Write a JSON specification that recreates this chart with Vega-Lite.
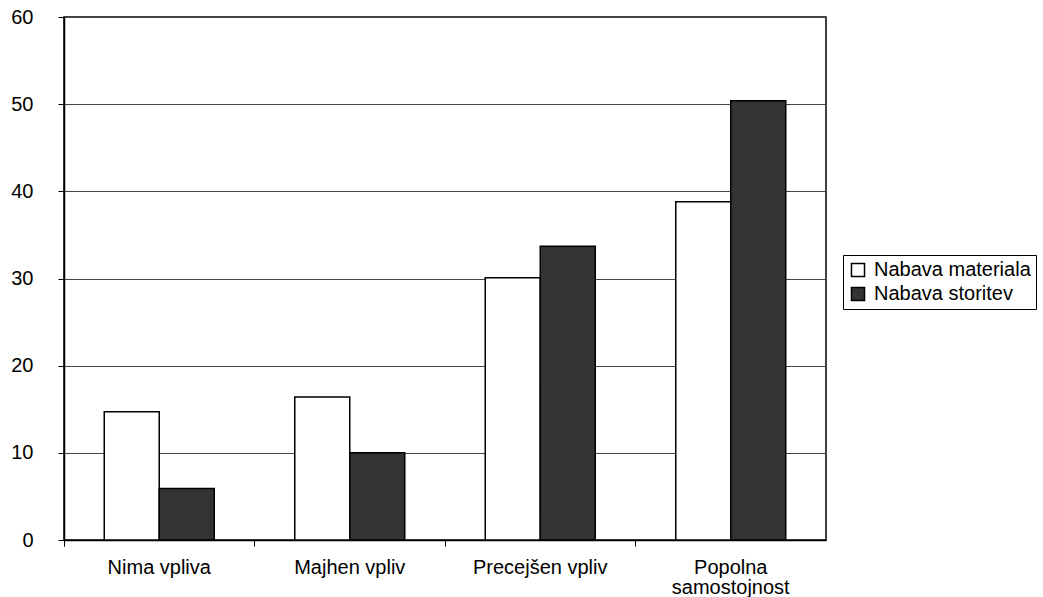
{
  "$schema": "https://vega.github.io/schema/vega-lite/v6.json",
  "width": 762,
  "height": 523,
  "autosize": {"type": "none"},
  "padding": {"left": 64, "top": 17, "right": 217, "bottom": 57},
  "background": "white",
  "config": {
    "font": "Liberation Sans",
    "view": {"stroke": "black", "strokeWidth": 1.5}
  },
  "data": {
    "values": [
      {"kategorija": "Nima vpliva", "serija": "Nabava materiala", "vrednost": 14.7},
      {"kategorija": "Nima vpliva", "serija": "Nabava storitev", "vrednost": 5.9},
      {"kategorija": "Majhen vpliv", "serija": "Nabava materiala", "vrednost": 16.4},
      {"kategorija": "Majhen vpliv", "serija": "Nabava storitev", "vrednost": 10.0},
      {"kategorija": "Precejšen vpliv", "serija": "Nabava materiala", "vrednost": 30.1},
      {"kategorija": "Precejšen vpliv", "serija": "Nabava storitev", "vrednost": 33.7},
      {"kategorija": "Popolna samostojnost", "serija": "Nabava materiala", "vrednost": 38.8},
      {"kategorija": "Popolna samostojnost", "serija": "Nabava storitev", "vrednost": 50.4}
    ]
  },
  "mark": {"type": "bar", "stroke": "black", "strokeWidth": 1.5},
  "encoding": {
    "x": {
      "field": "kategorija",
      "type": "nominal",
      "sort": ["Nima vpliva", "Majhen vpliv", "Precejšen vpliv", "Popolna samostojnost"],
      "scale": {"paddingInner": 0, "paddingOuter": 0},
      "axis": {
        "title": null,
        "labelAngle": 0,
        "bandPosition": 0,
        "tickExtra": true,
        "tickSize": 6,
        "tickColor": "black",
        "domainColor": "black",
        "domainWidth": 1.5,
        "labelFontSize": 20,
        "labelColor": "black",
        "labelBaseline": "middle",
        "labelPadding": 21,
        "labelLineHeight": 20,
        "labelExpr": "datum.label == 'Popolna samostojnost' ? ['Popolna', 'samostojnost'] : datum.label"
      }
    },
    "xOffset": {
      "field": "serija",
      "type": "nominal",
      "scale": {"paddingInner": 0, "paddingOuter": 0.732}
    },
    "y": {
      "field": "vrednost",
      "type": "quantitative",
      "scale": {"domain": [0, 60], "nice": false},
      "axis": {
        "title": null,
        "values": [0, 10, 20, 30, 40, 50, 60],
        "tickSize": 6,
        "tickColor": "black",
        "domainColor": "black",
        "domainWidth": 1.5,
        "grid": true,
        "gridColor": "#444444",
        "gridWidth": 1,
        "labelFontSize": 20,
        "labelColor": "black",
        "labelPadding": 25,
        "labelBaseline": "middle"
      }
    },
    "fill": {
      "field": "serija",
      "type": "nominal",
      "scale": {"domain": ["Nabava materiala", "Nabava storitev"], "range": ["#ffffff", "#333333"]},
      "legend": {
        "title": null,
        "orient": "none",
        "legendX": 779,
        "legendY": 238,
        "strokeColor": "black",
        "fillColor": "white",
        "padding": 5,
        "symbolType": "square",
        "symbolSize": 170,
        "symbolStrokeColor": "black",
        "symbolStrokeWidth": 1.5,
        "labelFontSize": 20,
        "labelColor": "black",
        "labelOffset": 6,
        "rowPadding": 4
      }
    }
  }
}
